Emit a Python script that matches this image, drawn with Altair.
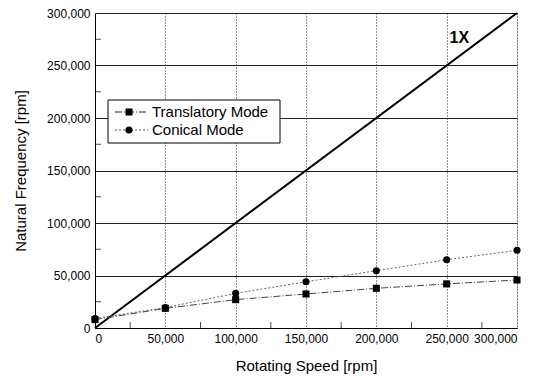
import altair as alt
import pandas as pd

speed = [0, 50000, 100000, 150000, 200000, 250000, 300000]
translatory = [8000, 18700, 27000, 32400, 37800, 42000, 45700]
conical = [9000, 19500, 33000, 44000, 54600, 65000, 74000]
one_x_x = [0, 300000]
one_x_y = [0, 300000]
minor_ticks = [25000, 75000, 125000, 175000, 225000, 275000]
legend_names = ["Translatory Mode", "Conical Mode"]

W, H = 422, 315
FONT = "Liberation Sans"

df = pd.DataFrame({
    "speed": speed * 2,
    "freq": translatory + conical,
    "mode": ["Translatory Mode"] * len(speed) + ["Conical Mode"] * len(speed),
})
df1x = pd.DataFrame({"speed": one_x_x, "freq": one_x_y})
dft = pd.DataFrame({"v": minor_ticks})

xs = alt.Scale(domain=[0, 300000], nice=False)
ys = alt.Scale(domain=[0, 300000], nice=False)

xaxis = alt.Axis(values=[0, 50000, 100000, 150000, 200000, 250000, 300000],
                 format=",.0f", title="Rotating Speed [rpm]", grid=True,
                 gridDash=[1, 2], gridColor="#222", gridOpacity=1,
                 domainColor="black", ticks=False, labelPadding=5,
                 labelFontSize=12, labelColor="black", labelFont=FONT,
                 titleFont=FONT, titleFontSize=15, titleFontWeight="normal",
                 titleColor="black", titlePadding=14)
yaxis = alt.Axis(values=[0, 50000, 100000, 150000, 200000, 250000, 300000],
                 format=",.0f", title="Natural Frequency [rpm]", grid=True,
                 gridColor="#222", gridOpacity=1, gridWidth=1,
                 domainColor="black", ticks=False, labelPadding=5,
                 labelFontSize=12, labelColor="black", labelFont=FONT,
                 titleFont=FONT, titleFontSize=15, titleFontWeight="normal",
                 titleColor="black", titlePadding=18)

base_axes = alt.Chart(df1x).mark_line(color="black", strokeWidth=2).encode(
    x=alt.X("speed:Q", scale=xs, axis=xaxis),
    y=alt.Y("freq:Q", scale=ys, axis=yaxis),
)

trans_df = df[df["mode"] == "Translatory Mode"]
con_df = df[df["mode"] == "Conical Mode"]

trans_line = alt.Chart(trans_df).mark_line(color="#444", strokeWidth=1, strokeDash=[7, 2, 1, 2]).encode(
    x=alt.X("speed:Q", scale=xs), y=alt.Y("freq:Q", scale=ys))
con_line = alt.Chart(con_df).mark_line(color="#666", strokeWidth=1, strokeDash=[2, 2]).encode(
    x=alt.X("speed:Q", scale=xs), y=alt.Y("freq:Q", scale=ys))
trans_pts = alt.Chart(trans_df).mark_point(shape="square", filled=True, color="black", size=50, opacity=1).encode(
    x=alt.X("speed:Q", scale=xs), y=alt.Y("freq:Q", scale=ys))
con_pts = alt.Chart(con_df).mark_point(shape="circle", filled=True, color="black", size=50, opacity=1).encode(
    x=alt.X("speed:Q", scale=xs), y=alt.Y("freq:Q", scale=ys))

label_1x = alt.Chart(pd.DataFrame({"speed": [259000], "freq": [276000], "t": ["1X"]})).mark_text(
    font=FONT, fontSize=16, fontWeight="bold", color="black", baseline="middle").encode(
    x=alt.X("speed:Q", scale=xs), y=alt.Y("freq:Q", scale=ys), text="t:N")

xticks = alt.Chart(dft).mark_tick(color="black", size=6, thickness=1).encode(
    x=alt.X("v:Q", scale=xs), y=alt.value(H - 3))
yticks = alt.Chart(dft).mark_tick(color="black", size=6, thickness=1).encode(
    y=alt.Y("v:Q", scale=ys), x=alt.value(3))

leg_box = alt.Chart(pd.DataFrame({"a": [0]})).mark_rect(fill="white", stroke="black", strokeWidth=1).encode(
    x=alt.value(13), x2=alt.value(185), y=alt.value(87), y2=alt.value(130))
leg_l1 = alt.Chart(pd.DataFrame({"a": [0]})).mark_rule(color="#222", strokeWidth=1, strokeDash=[7, 2, 1, 2]).encode(
    x=alt.value(20), x2=alt.value(53), y=alt.value(99))
leg_l2 = alt.Chart(pd.DataFrame({"a": [0]})).mark_rule(color="#555", strokeWidth=1, strokeDash=[2, 2]).encode(
    x=alt.value(20), x2=alt.value(53), y=alt.value(117))
leg_p1 = alt.Chart(pd.DataFrame({"a": [0]})).mark_point(shape="square", filled=True, color="black", size=50, opacity=1).encode(
    x=alt.value(34), y=alt.value(99))
leg_p2 = alt.Chart(pd.DataFrame({"a": [0]})).mark_point(shape="circle", filled=True, color="black", size=50, opacity=1).encode(
    x=alt.value(34), y=alt.value(117))
leg_text = alt.Chart(pd.DataFrame({"t": legend_names, "yy": [99, 117]})).mark_text(
    font=FONT, fontSize=15, color="black", align="left", baseline="middle").encode(
    x=alt.value(57), y=alt.Y("yy:Q", scale=None), text="t:N")

chart = alt.layer(
    base_axes, trans_line, con_line, trans_pts, con_pts, label_1x, xticks, yticks,
    leg_box, leg_l1, leg_l2, leg_p1, leg_p2, leg_text
).properties(
    width=W, height=H,
    autosize=alt.AutoSizeParams(type="none"),
    padding={"left": 87, "top": 5, "right": 25, "bottom": 48},
).configure_view(stroke="black", strokeWidth=1.5).configure(background="white")

chart.save("out.html", embed_options={"renderer": "svg", "actions": False})
